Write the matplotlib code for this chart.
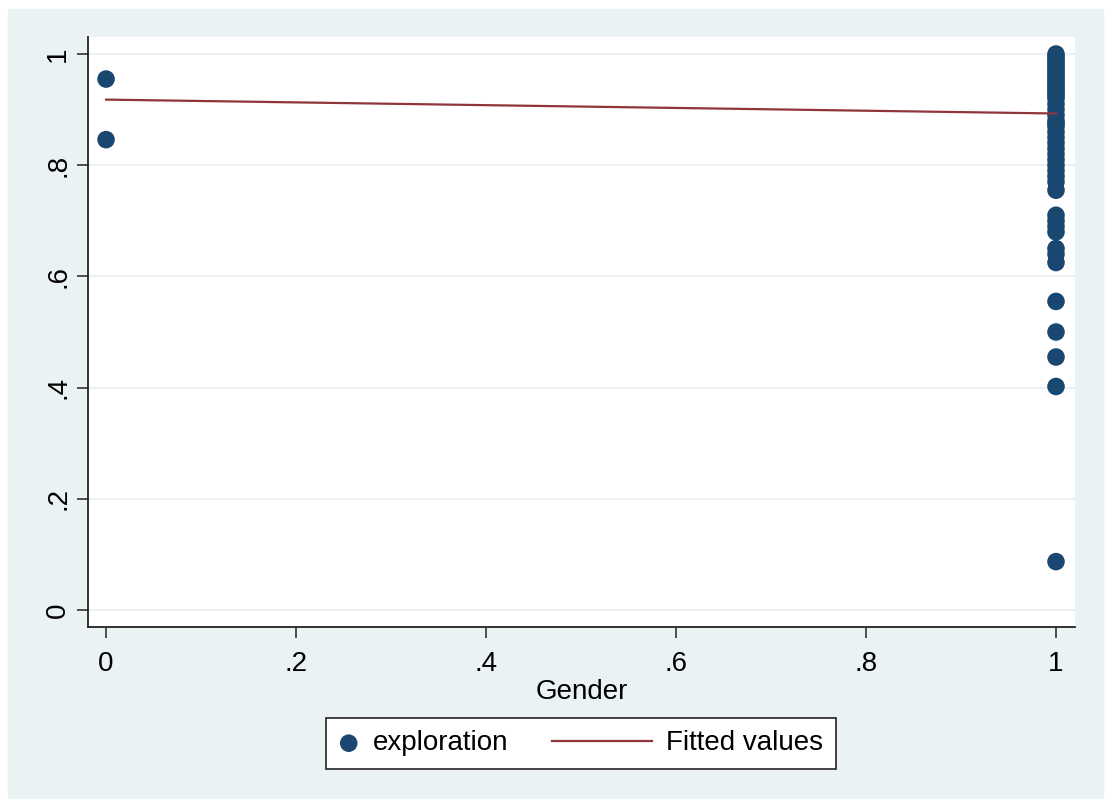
import matplotlib.pyplot as plt
from matplotlib.patches import Rectangle
from matplotlib.legend_handler import HandlerLine2D

plt.rcParams['font.family'] = ['Liberation Sans', 'DejaVu Sans']

# exploration by gender
gender_0 = [0, 0]
explore_0 = [0.955, 0.846]
explore_1 = [1.0, 0.995, 0.99, 0.985, 0.98, 0.975, 0.97, 0.965, 0.96, 0.955,
             0.95, 0.945, 0.94, 0.935, 0.93, 0.925, 0.92, 0.91, 0.9, 0.89,
             0.88, 0.875, 0.87, 0.86, 0.85, 0.84, 0.83, 0.82, 0.81, 0.8,
             0.79, 0.78, 0.77, 0.755, 0.71, 0.70, 0.69, 0.68, 0.65, 0.64,
             0.625, 0.555, 0.5, 0.455, 0.402, 0.087]
gender_1 = [1] * len(explore_1)

# fitted values from the linear fit
fit_x = [0, 1]
fit_y = [0.918, 0.893]

xticks = [0, 0.2, 0.4, 0.6, 0.8, 1]
xlabels = ['0', '.2', '.4', '.6', '.8', '1']
yticks = [0, 0.2, 0.4, 0.6, 0.8, 1]
ylabels = ['0', '.2', '.4', '.6', '.8', '1']

navy = '#1a476f'
maroon = '#90353b'
bg = '#eaf2f3'
FS = 20


class LongLineHandler(HandlerLine2D):
    # line key that reaches back to the left of its (short) handle box
    def get_xdata(self, legend, xdescent, ydescent, width, height, fontsize):
        x0 = -xdescent + width - 3.6 * fontsize
        return [x0, -xdescent + width], [(x0 - xdescent + width) / 2]


fig = plt.figure(figsize=(11.06, 7.99), dpi=100, facecolor='white')
fig.add_artist(Rectangle((8 / 1106, 0), 1095 / 1106, 790 / 799,
                         transform=fig.transFigure, color=bg, zorder=-5))

ax = fig.add_axes([88 / 1106, 172 / 799, 987 / 1106, 590 / 799])
ax.set_facecolor('white')

pts = ax.scatter(gender_0 + gender_1, explore_0 + explore_1, s=160, color=navy,
                 edgecolors='none', zorder=3, label='exploration')
fit, = ax.plot(fit_x, fit_y, color=maroon, lw=1.6, zorder=4, label='Fitted values')

ax.set_xlim(-0.019, 1.02)
ax.set_ylim(-0.0306, 1.0306)
ax.set_xticks(xticks, xlabels)
ax.set_yticks(yticks, ylabels)
for lbl in ax.get_yticklabels():
    lbl.set_rotation(90)
    lbl.set_va('center')
ax.tick_params(axis='x', direction='out', length=8, width=1.2,
               color='#333333', labelsize=FS, pad=9)
ax.tick_params(axis='y', direction='out', length=8, width=1.2,
               color='#333333', labelsize=FS, pad=4)
ax.grid(axis='y', color=bg, lw=1.5, zorder=0)
ax.set_axisbelow(True)

for side in ['top', 'right']:
    ax.spines[side].set_visible(False)
for side in ['left', 'bottom']:
    ax.spines[side].set_linewidth(1.3)
    ax.spines[side].set_color('#222222')

ax.set_xlabel('Gender', fontsize=FS, labelpad=2)

leg = fig.legend([pts, fit], ['exploration', 'Fitted values'], loc='center',
                 bbox_to_anchor=(0.525, 0.0695), ncol=2, fontsize=FS,
                 frameon=True, fancybox=False, framealpha=1,
                 edgecolor='#222222', handlelength=0.77, columnspacing=4.4,
                 handletextpad=0.5, borderpad=0.45, scatterpoints=1,
                 handler_map={fit: LongLineHandler()})
leg.get_frame().set_linewidth(1.2)

fig.savefig('out.png', dpi=100, facecolor=fig.get_facecolor())
